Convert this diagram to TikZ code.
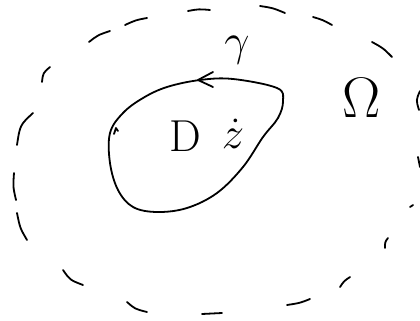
\documentclass[tikz,border=0pt]{standalone}
\usepackage{amsmath}
\usetikzlibrary{arrows.meta}
\tikzset{
  ink/.style={black,line width=1.8pt,line cap=round,line join=round},
  brk/.style={ink},
  lbl/.style={inner sep=0pt,font=\Huge,scale=1.8},
  blbl/.style={inner sep=0pt,font=\Huge,scale=2.3},
}
\begin{document}
\begin{tikzpicture}[x=1pt,y=-1pt]
  \useasboundingbox (0,0) rectangle (420,321);
  % outer region, dashed by hand
  \foreach \xa/\ya/\xb/\yb/\xc/\yc in {
      89/42/98/35/110/31, 125/25/136/20/147/18, 188/11/199/9/210/10,
      260/6/273/8/285/13, 313/17/323/20/332/25, 372/42/383/48/392/57,
      50/67/43/73/42/82, 33/113/20/125/17/145, 14/173/13/187/16/200,
      17/213/20/228/27/240, 63/270/70/280/83/285, 127/302/135/309/147/312,
      202/314/212/314/222/313, 287/305/300/303/310/299, 340/287/344/281/350/277,
      385/248/385/242/388/238, 410/207/411/206/413/205,
      420/91/416/100/419/110, 418/157/419/162/420/167}
    \draw[brk] (\xa,\ya) .. controls (\xb,\yb) .. (\xc,\yc);
  % curve gamma
  \draw[ink] plot[smooth cycle,tension=0.6] coordinates {
      (200,80) (233,79) (277,88) (283,101) (278,118) (263,137) (243,167)
      (217,193) (187,208) (157,212) (133,207) (118,190) (110,163) (110,133)
      (123,113) (143,98) (167,87)};
  \draw[ink] (213,72) -- (198,80) -- (213,87);
  \draw[ink] (114,134) -- (116,128) -- (118,131);
  % labels
  \node[lbl] (gam) at (237,50) {$\gamma$};
  \node[lbl] (dom) at (185,136) {$\mathrm{D}$};
  \node[lbl] (pt) at (233,134) {$\dot z$};
  \node[blbl] (omg) at (362,98) {$\Omega$};
\end{tikzpicture}
\end{document}
